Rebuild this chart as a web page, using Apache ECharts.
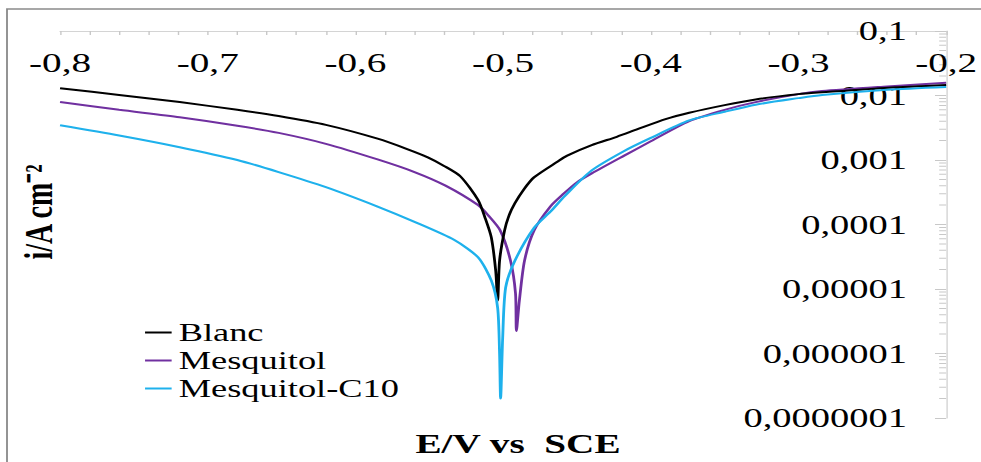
<!DOCTYPE html>
<html>
<head>
<meta charset="utf-8">
<script src="https://cdn.jsdelivr.net/npm/echarts@6/dist/echarts.min.js"></script>
<style>
html,body{margin:0;padding:0;background:#fff;overflow:hidden;}
#chart{position:absolute;left:0;top:0;width:700.714px;height:462px;transform:scaleX(1.4);transform-origin:0 0;}
</style>
</head>
<body>
<div id="chart"></div>
<script>
// ---- data ----
const xMin = -0.8, xMax = -0.2, xStep = 0.1;
const xTickLabels = ['-0,8','-0,7','-0,6','-0,5','-0,4','-0,3','-0,2'];
const yMin = 1e-7, yMax = 0.1;
const yTickLabels = ['0,0000001','0,000001','0,00001','0,0001','0,001','0,01','0,1'];
const seriesNames = ['Blanc','Mesquitol','Mesquitol-C10'];

const blancE = [-0.800,-0.760,-0.719,-0.680,-0.652,-0.620,-0.585,-0.565,-0.551,-0.540,-0.529,-0.517,-0.512,-0.508,-0.505,-0.5037,-0.5024,-0.499,-0.496,-0.492,-0.486,-0.479,-0.463,-0.4566,-0.440,-0.423,-0.409,-0.390,-0.374,-0.350,-0.329,-0.300,-0.284,-0.239,-0.200];
const blancI = [1.30e-2,1.02e-2,7.9e-3,6.0e-3,4.8e-3,3.5e-3,2.14e-3,1.48e-3,1.10e-3,8.1e-4,5.6e-4,2.4e-4,1.23e-4,6.3e-5,1.9e-5,6.6e-6,2.75e-5,8.1e-5,1.38e-4,2.14e-4,3.5e-4,5.4e-4,9.5e-4,1.17e-3,1.7e-3,2.29e-3,3.0e-3,4.3e-3,5.4e-3,7.1e-3,8.7e-3,1.05e-2,1.12e-2,1.32e-2,1.46e-2];

const mesqE = [-0.800,-0.760,-0.719,-0.680,-0.652,-0.620,-0.585,-0.560,-0.539,-0.517,-0.510,-0.502,-0.495,-0.4916,-0.491,-0.489,-0.4855,-0.479,-0.468,-0.459,-0.450,-0.440,-0.418,-0.400,-0.374,-0.350,-0.329,-0.300,-0.284,-0.240,-0.200];
const mesqI = [7.9e-3,6.0e-3,4.6e-3,3.4e-3,2.63e-3,1.78e-3,1.02e-3,6.5e-4,4.0e-4,2.0e-4,1.38e-4,8.1e-5,2.75e-5,8.5e-6,2.24e-6,6.6e-6,2.75e-5,8.1e-5,1.9e-4,3.0e-4,4.5e-4,6.2e-4,1.17e-3,1.95e-3,4.0e-3,6.0e-3,7.9e-3,1.05e-2,1.17e-2,1.38e-2,1.58e-2];

const c10E = [-0.800,-0.760,-0.719,-0.680,-0.652,-0.620,-0.585,-0.560,-0.533,-0.517,-0.508,-0.5037,-0.5024,-0.5017,-0.5003,-0.4983,-0.492,-0.479,-0.468,-0.458,-0.440,-0.418,-0.400,-0.374,-0.350,-0.329,-0.300,-0.284,-0.240,-0.200];
const c10I = [3.45e-3,2.40e-3,1.58e-3,1.0e-3,6.5e-4,3.8e-4,1.9e-4,1.1e-4,5.75e-5,3.1e-5,1.35e-5,5.1e-6,1.0e-6,2.0e-7,1.74e-6,1.05e-5,2.75e-5,8.9e-5,1.58e-4,2.8e-4,6.9e-4,1.38e-3,2.2e-3,4.1e-3,5.6e-3,7.2e-3,9.1e-3,1.02e-2,1.23e-2,1.36e-2];

const colors = ['#000000','#7030A0','#1EB1EC'];

// ---- chart ----
const chart = echarts.init(document.getElementById('chart'), null, {renderer:'svg'});
const serif = '"Liberation Serif","Times New Roman",serif';
function pairs(E, I){ return E.map((e,k)=>[e, I[k]]); }
function lineSeries(idx, E, I, z){
  return {name:seriesNames[idx], type:'line', showSymbol:false, smooth:0.25,
    data:pairs(E, I), lineStyle:{color:colors[idx], width:2}, itemStyle:{color:colors[idx]}, z:z};
}

const option = {
  animation:false,
  backgroundColor:'#ffffff',
  grid:{left:42.9, right:22.1, top:31, bottom:44, containLabel:false},
  legend:{
    orient:'vertical', left:103.6, top:319, padding:0, itemGap:1,
    itemWidth:19, itemHeight:2, icon:'rect',
    textStyle:{fontFamily:serif, fontSize:26, color:'#000', lineHeight:27},
    data:seriesNames
  },
  xAxis:{
    type:'value', position:'top', min:xMin, max:xMax, interval:xStep,
    axisLine:{show:true, onZero:false, lineStyle:{color:'#d4d4d4', width:1}},
    axisTick:{show:true, inside:true, length:4, lineStyle:{color:'#c8c8c8'}},
    minorTick:{show:true, splitNumber:5, length:4, lineStyle:{color:'#c8c8c8'}},
    axisLabel:{inside:true, margin:18, fontFamily:serif, fontSize:28, color:'#000',
      formatter:function(v){ return xTickLabels[Math.round((v - xMin)/xStep)] || ''; }},
    splitLine:{show:false}
  },
  yAxis:{
    type:'log', logBase:10, position:'right', min:yMin, max:yMax,
    axisLine:{show:true, lineStyle:{color:'#d4d4d4', width:1}},
    axisTick:{show:true, inside:true, length:8, lineStyle:{color:'#c8c8c8'}},
    axisLabel:{inside:true, margin:28, fontFamily:serif, fontSize:27.5, color:'#000',
      formatter:function(v){ return yTickLabels[Math.round(Math.log10(v)) + 7] || ''; }},
    splitLine:{show:false}
  },
  series:[
    lineSeries(0, blancE, blancI, 3),
    lineSeries(1, mesqE, mesqI, 2),
    lineSeries(2, c10E, c10I, 4)
  ],
  graphic:[]
};
chart.setOption(option);

// decorations: frame, titles, log minor ticks
const g = [
  {type:'rect', shape:{x:5, y:9, width:800, height:600}, style:{fill:null, stroke:'#8a8a8a', lineWidth:1.3}, silent:true, z:0},
  {type:'text', x:27.9, y:212, rotation:Math.PI/2,
    style:{text:'i/A cm\u207B\u00B2', fontFamily:serif, fontSize:28, fontWeight:'bold', fill:'#000', align:'center', verticalAlign:'middle'}},
  {type:'text', x:370, y:444,
    style:{text:'E/V vs  SCE', fontFamily:serif, fontSize:28, fontWeight:'bold', fill:'#000', align:'center', verticalAlign:'middle'}}
];
const axisX = chart.convertToPixel({gridIndex:0}, [xMax, yMax])[0];
for (let d = -7; d < -1; d++) {
  for (let m = 2; m <= 9; m++) {
    const v = m * Math.pow(10, d);
    const py = chart.convertToPixel({gridIndex:0}, [xMax, v])[1];
    g.push({type:'line', shape:{x1:axisX-5, y1:py, x2:axisX, y2:py}, style:{stroke:'#c8c8c8', lineWidth:1}, silent:true});
  }
}
chart.setOption({graphic:g});
</script>
</body>
</html>
